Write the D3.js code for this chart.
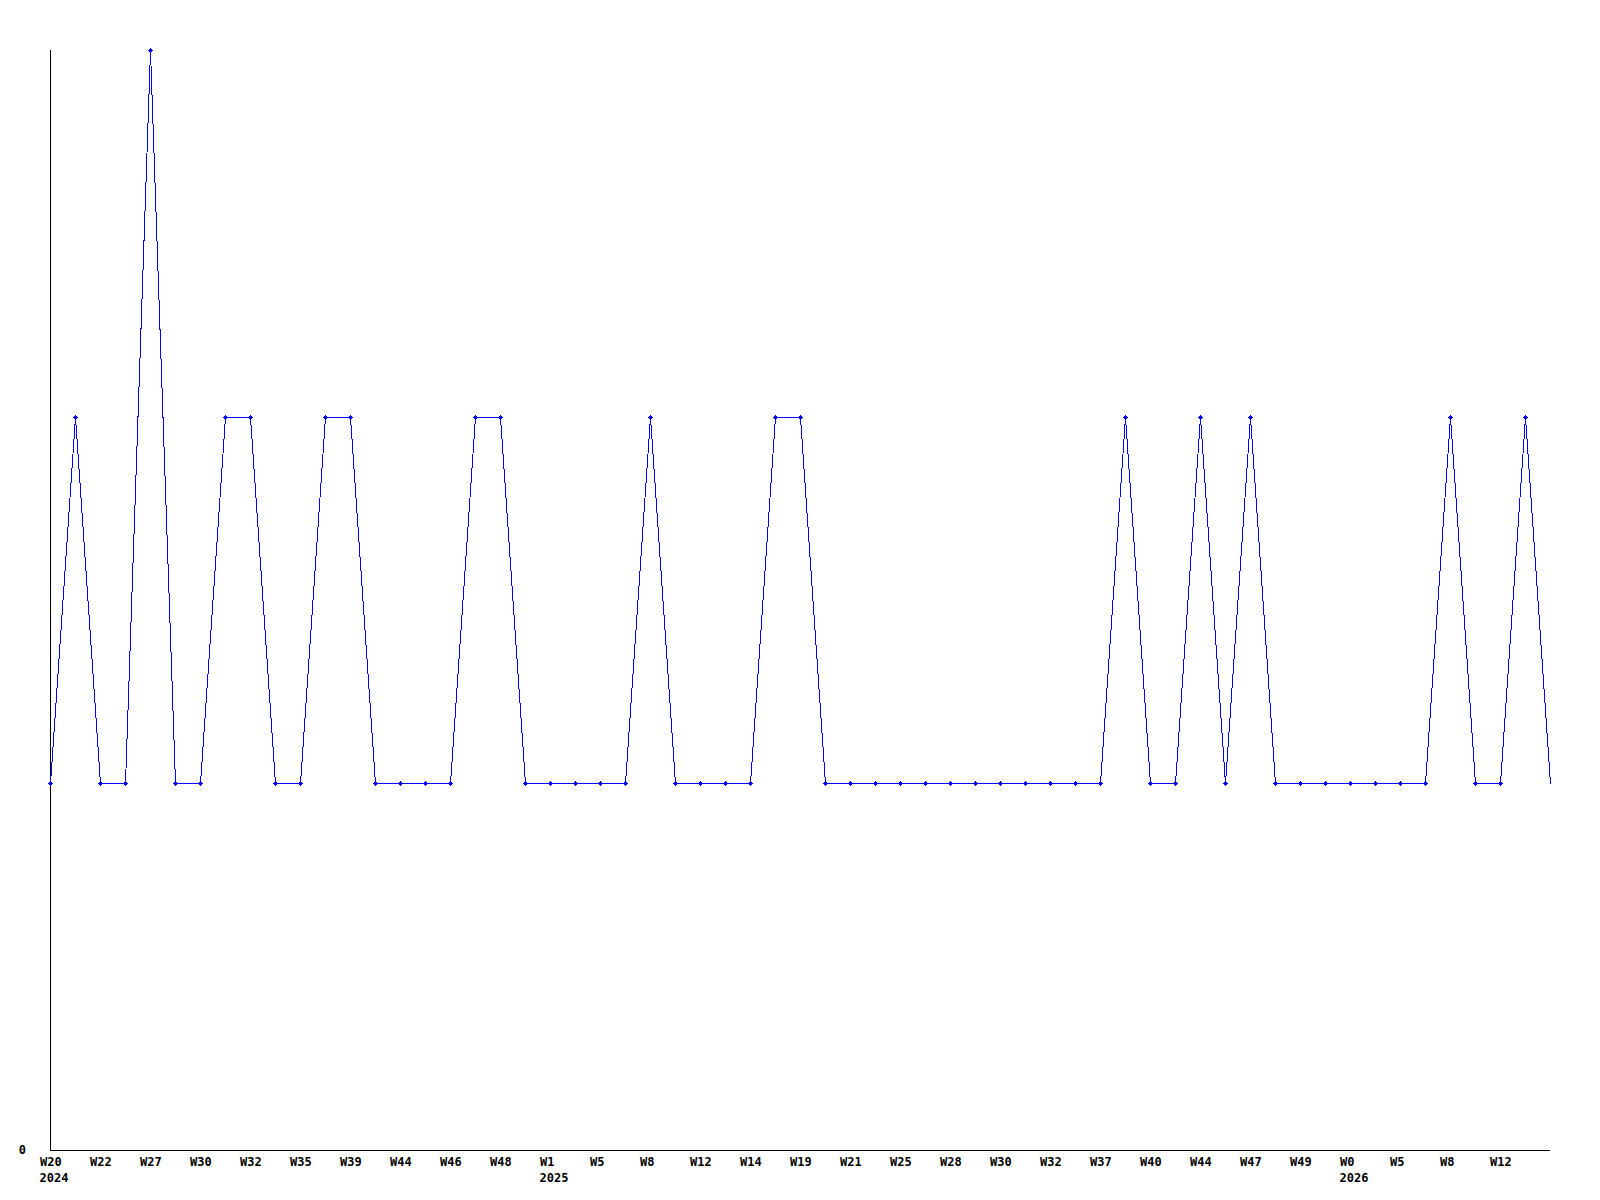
<!DOCTYPE html>
<html>
<head>
<meta charset="utf-8">
<script src="https://cdn.jsdelivr.net/npm/d3@7"></script>
<style>
  html, body { margin: 0; padding: 0; background: #ffffff; }
  svg { display: block; }
  text { font-family: "DejaVu Sans Mono", monospace; font-weight: bold; font-size: 12px; fill: #000; }
</style>
</head>
<body>
<svg id="chart" width="1600" height="1200"></svg>
<script>
// Data (one value per week point)
const values = [
  1, 2, 1, 1, 3, 1, 1, 2, 2, 1,
  1, 2, 2, 1, 1, 1, 1, 2, 2, 1,
  1, 1, 1, 1, 2, 1, 1, 1, 1, 2,
  2, 1, 1, 1, 1, 1, 1, 1, 1, 1,
  1, 1, 1, 2, 1, 1, 2, 1, 2, 1,
  1, 1, 1, 1, 1, 1, 2, 1, 1, 2,
  1
];
// Tick labels, one every second point
const tickLabels = [
  "W20", "W22", "W27", "W30", "W32", "W35", "W39", "W44", "W46", "W48",
  "W1", "W5", "W8", "W12", "W14", "W19", "W21", "W25", "W28", "W30",
  "W32", "W37", "W40", "W44", "W47", "W49", "W0", "W5", "W8", "W12"
];
const yearLabels = ["2024", "2025", "2026"];
const yearIndex = [0, 20, 52];
const yTicks = [0];

const svg = d3.select("#chart");
const x = d3.scaleLinear().domain([0, values.length - 1]).range([50, 1550]);
const y = d3.scaleLinear().domain([0, 3]).range([1150, 50]);

// X axis
const xAxis = d3.axisBottom(x)
  .tickValues(tickLabels.map((d, i) => i * 2))
  .tickSize(0)
  .tickPadding(0)
  .tickFormat(d => tickLabels[d / 2]);
const gx = svg.append("g").attr("transform", "translate(0,1150)").call(xAxis);
gx.select(".domain").attr("stroke", "#000").attr("d", "M50,0.5H1550");
gx.selectAll(".tick text")
  .attr("text-anchor", "start")
  .attr("dx", -10.5)
  .attr("y", 16)
  .attr("dy", null)
  .style("font-family", "'DejaVu Sans Mono', monospace")
  .style("font-weight", "bold")
  .style("font-size", "12px")
  .attr("fill", "#000");

// Year labels
svg.append("g").selectAll("text").data(yearLabels).join("text")
  .attr("x", (d, i) => x(yearIndex[i]) - 10.5)
  .attr("y", 1182)
  .text(d => d);

// Y axis
const yAxis = d3.axisLeft(y).tickValues(yTicks).tickSize(0).tickPadding(24).tickFormat(d3.format("d"));
const gy = svg.append("g").attr("transform", "translate(50,0)").call(yAxis);
gy.select(".domain").attr("stroke", "#000").attr("d", "M0.5,50V1150");
gy.selectAll(".tick text")
  .attr("dy", null)
  .attr("y", 3)
  .style("font-family", "'DejaVu Sans Mono', monospace")
  .style("font-weight", "bold")
  .style("font-size", "12px")
  .attr("fill", "#000");

// Line
const line = d3.line().x((d, i) => x(i) + 0.5).y(d => y(d) + 0.5);
svg.append("path")
  .datum(values)
  .attr("fill", "none")
  .attr("stroke", "#0000ff")
  .attr("stroke-width", 1)
  .attr("shape-rendering", "crispEdges")
  .attr("d", line);

// Markers (all but the last point): small cross with a 3x3 core
const cross = "M-2,0H3V1H-2Z M0,-2H1V3H0Z M-1,-1H2V2H-1Z";
svg.append("g").selectAll("path").data(values.slice(0, values.length - 1)).join("path")
  .attr("transform", (d, i) => `translate(${Math.round(x(i))},${Math.round(y(d))})`)
  .attr("d", cross)
  .attr("fill", "#0000ff")
  .attr("shape-rendering", "crispEdges");
</script>
</body>
</html>
